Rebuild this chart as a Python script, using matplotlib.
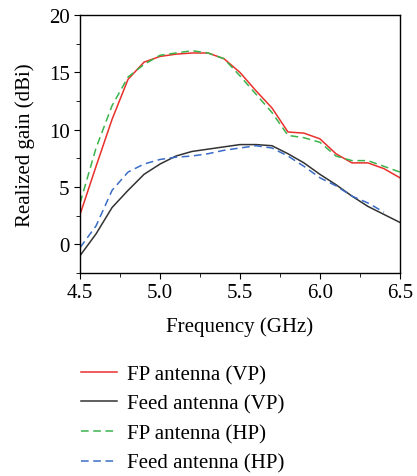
import numpy as np
import matplotlib
matplotlib.use("Agg")
import matplotlib.pyplot as plt
from matplotlib.ticker import MultipleLocator

plt.rcParams['font.family'] = ['Liberation Serif', 'DejaVu Serif']

freq = [4.5, 4.6, 4.7, 4.8, 4.9, 5.0, 5.1, 5.2, 5.3, 5.4, 5.5,
        5.6, 5.7, 5.8, 5.9, 6.0, 6.1, 6.2, 6.3, 6.4, 6.5]
fp_vp = [2.6, 6.8, 10.9, 14.4, 15.9, 16.4, 16.6, 16.7, 16.7, 16.2, 15.0,
         13.4, 11.9, 9.8, 9.7, 9.2, 7.9, 7.1, 7.1, 6.6, 5.8]
feed_vp = [-1.0, 0.9, 3.2, 4.7, 6.1, 7.0, 7.7, 8.1, 8.3, 8.5, 8.7,
           8.7, 8.6, 7.9, 7.1, 6.1, 5.2, 4.2, 3.3, 2.6, 1.9]
fp_hp = [3.6, 8.4, 12.1, 14.6, 15.7, 16.5, 16.7, 16.9, 16.7, 16.2, 14.7,
         13.1, 11.5, 9.5, 9.3, 8.9, 7.7, 7.3, 7.3, 6.8, 6.3]
feed_hp_f = freq[:20]
feed_hp = [-0.3, 1.6, 4.7, 6.3, 7.0, 7.4, 7.6, 7.7, 7.9, 8.2, 8.4,
           8.6, 8.4, 7.7, 6.8, 5.8, 5.1, 4.2, 3.6, 2.8]

fig = plt.figure(figsize=(4.17, 4.77), dpi=100)
ax = fig.add_axes([0.192, 0.426, 0.767, 0.54])

ax.plot(freq, fp_vp, color="#e8302c", lw=1.1, label="FP antenna (VP)")
ax.plot(freq, feed_vp, color="#333333", lw=1.1, label="Feed antenna (VP)")
ax.plot(freq, fp_hp, color="#3cb44b", lw=1.1, ls=(0, (5, 3)), label="FP antenna (HP)")
ax.plot(feed_hp_f, feed_hp, color="#3a6cc6", lw=1.1, ls=(0, (5, 3)), label="Feed antenna (HP)")

ax.set_xlim(4.5, 6.5)
ax.set_ylim(-2.5, 20)
ax.xaxis.set_major_locator(MultipleLocator(0.5))
ax.xaxis.set_minor_locator(MultipleLocator(0.25))
ax.yaxis.set_major_locator(MultipleLocator(5))
ax.yaxis.set_minor_locator(MultipleLocator(2.5))
ax.xaxis.set_major_formatter(plt.FormatStrFormatter('%.1f'))
ax.tick_params(which='both', direction='out', top=False, right=False, labelsize=15)
ax.tick_params(which='major', length=4)
ax.tick_params(which='minor', length=3)
for s in ax.spines.values():
    s.set_linewidth(1.0)

ax.set_xlabel("Frequency (GHz)", fontsize=15, labelpad=10)
ax.set_ylabel("Realized gain (dBi)", fontsize=15, labelpad=10)

fig.legend(loc='upper left', bbox_to_anchor=(0.175, 0.251), frameon=False,
           fontsize=15, handlelength=1.7, handletextpad=0.5, labelspacing=0.48,
           borderaxespad=0)

fig.savefig("out.png", dpi=100)
